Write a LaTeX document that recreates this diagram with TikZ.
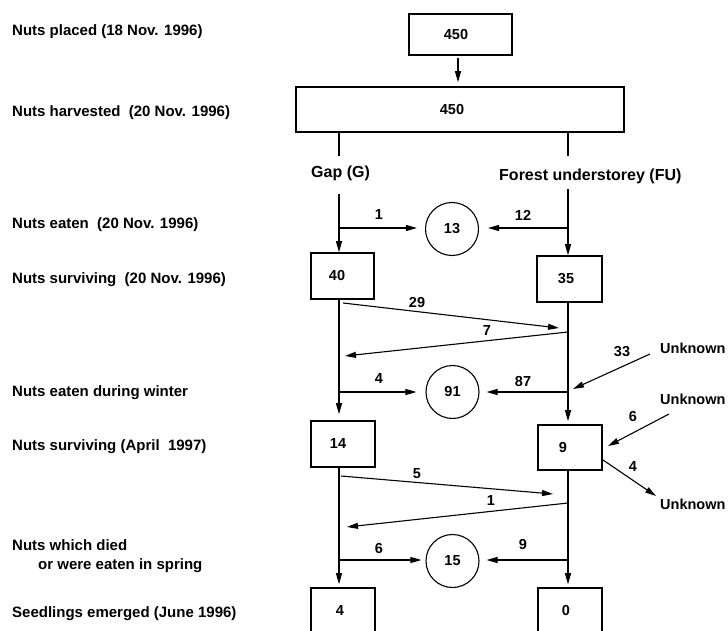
\documentclass[tikz,border=0pt]{standalone}
\usepackage{fontspec}
\setmainfont{Liberation Sans}
\usetikzlibrary{arrows.meta}
\begin{document}
\begin{tikzpicture}[x=1pt,y=-1pt,
  every node/.style={font=\bfseries\fontsize{14.5}{17}\selectfont, inner sep=0pt},
  box/.style={draw, line width=1.6pt, inner sep=0pt},
  pool/.style={draw, circle, line width=1.1pt, minimum size=53pt, inner sep=0pt},
  conn/.style={line width=1.1pt},
  arr/.style={conn, -{Triangle[length=11pt,width=6pt]}},
  lbl/.style={anchor=west},
  rowlbl/.style={anchor=west, font=\bfseries\fontsize{15}{18}\selectfont},
  head/.style={anchor=west, font=\bfseries\fontsize{16}{19}\selectfont},
]
\useasboundingbox (0,0) rectangle (728,631);

% left row labels
\node[rowlbl] (r1) at (12,32) {Nuts placed (18 Nov. 1996)};
\node[rowlbl] (r2) at (12,113) {Nuts harvested\ \ (20 Nov. 1996)};
\node[rowlbl] (r3) at (12,225) {Nuts eaten\ \ (20 Nov. 1996)};
\node[rowlbl] (r4) at (12,280) {Nuts surviving\ \ (20 Nov. 1996)};
\node[rowlbl] (r5) at (12,393) {Nuts eaten during winter};
\node[rowlbl] (r6) at (12,447) {Nuts surviving (April\ \ 1997)};
\node[rowlbl] (r7) at (12,545) {Nuts which died};
\node[rowlbl] (r7b) at (38,566) {or were eaten in spring};
\node[rowlbl] (r8) at (12,614) {Seedlings emerged (June 1996)};

% boxes
\node[box, minimum width=103pt, minimum height=41pt] (top) at (460.5,34.5) {450\hspace*{9pt}};
\node[box, minimum width=328pt, minimum height=45pt] (harv) at (460,109.5) {450\hspace*{16pt}};
\node[box, minimum width=63pt, minimum height=46pt] (b40) at (342.5,276) {40\hspace*{11pt}};
\node[box, minimum width=65pt, minimum height=46pt] (b35) at (569.5,279) {35\hspace*{7pt}};
\node[box, minimum width=64pt, minimum height=46pt] (b14) at (343,444) {14\hspace*{10pt}};
\node[box, minimum width=64pt, minimum height=45pt] (b9) at (570,447.5) {9\hspace*{14pt}};
\begin{scope}
  \clip (0,0) rectangle (728,631);
  \node[box, minimum width=64pt, minimum height=46pt] (b4) at (343,611) {4\hspace*{6pt}};
  \node[box, minimum width=64pt, minimum height=46pt] (b0) at (570,611) {0\hspace*{8pt}};
\end{scope}

% circles
\node[pool] (c13) at (452,229) {13};
\node[pool] (c91) at (452.5,392) {91};
\node[pool] (c15) at (452.5,561) {15};

% column headers
\node[head] (gap) at (311,173) {Gap (G)};
\node[head] (fu) at (499,176) {Forest understorey (FU)};

% unknown sources/sinks
\node[lbl] (u1) at (660,348) {Unknown};
\node[lbl] (u2) at (660,399) {Unknown};
\node[lbl] (u3) at (660,504) {Unknown};

% named points
\coordinate (L) at (339,0);
\coordinate (R) at (568,0);
\coordinate (Lh) at (339,156); \coordinate (Rh) at (568,156);
\coordinate (Ls) at (339,194); \coordinate (Rs) at (568,189);
\coordinate (L1) at (339,228); \coordinate (R1) at (568,228);
\coordinate (L2) at (339,392); \coordinate (R2) at (568,392);
\coordinate (L3) at (339,560); \coordinate (R3) at (568,560);
\coordinate (a29s) at (343,303); \coordinate (a29e) at (559,328);
\coordinate (a7s) at (568,332); \coordinate (a7e) at (345,356);
\coordinate (a5s) at (341,476); \coordinate (a5e) at (553,494);
\coordinate (a1s) at (568,503); \coordinate (a1e) at (347,527);
\coordinate (u1t) at (650,354); \coordinate (u1h) at (573,389);
\coordinate (u2t) at (669,414); \coordinate (u2h) at (608,446);
\coordinate (u3t) at (603,460); \coordinate (u3h) at (656,496);

% top arrow
\draw[arr, shorten <=2pt, shorten >=4pt] (top.south -| 458,0) -- (harv.north -| 458,0);

% stubs below harvest box
\draw[conn] (harv.south -| L) -- (Lh);
\draw[conn] (harv.south -| R) -- (Rh);

% left column
\draw[arr] (Ls) -- (b40.north -| L);
\draw[arr, shorten >=8pt] (L1) -- (c13.west |- L1);
\draw[arr, shorten >=6pt] (b40.south -| L) -- (b14.north -| L);
\draw[arr, shorten >=9pt] (L2) -- (c91.west |- L2);
\draw[arr, shorten >=3pt] (b14.south -| L) -- (b4.north -| L);
\draw[arr, shorten >=4pt] (L3) -- (c15.west |- L3);

% right column
\draw[arr] (Rs) -- (b35.north -| R);
\draw[arr, shorten >=9pt] (R1) -- (c13.east |- R1);
\draw[arr, shorten >=3pt] (b35.south -| R) -- (b9.north -| R);
\draw[arr, shorten >=7pt] (R2) -- (c91.east |- R2);
\draw[arr, shorten >=3pt] (b9.south -| R) -- (b0.north -| R);
\draw[arr, shorten >=7pt] (R3) -- (c15.east |- R3);

% transfers
\draw[arr] (a29s) -- (a29e);
\draw[arr] (a7s) -- (a7e);
\draw[arr] (a5s) -- (a5e);
\draw[arr] (a1s) -- (a1e);

% unknown
\draw[arr] (u1t) -- (u1h);
\draw[arr] (u2t) -- (u2h);
\draw[arr] (u3t) -- (u3h);

% flow labels
\node (n1) at (379,215) {1};
\node (n12) at (523,215) {12};
\node (n29) at (417,303) {29};
\node (n7) at (487,331) {7};
\node (n33) at (622,352) {33};
\node (n4a) at (379,379) {4};
\node (n87) at (523,382) {87};
\node (n6a) at (633,417) {6};
\node (n5) at (417,474) {5};
\node (n4b) at (633,467) {4};
\node (n1b) at (491,501) {1};
\node (n6b) at (379,549) {6};
\node (n9) at (523,545) {9};
\end{tikzpicture}
\end{document}
